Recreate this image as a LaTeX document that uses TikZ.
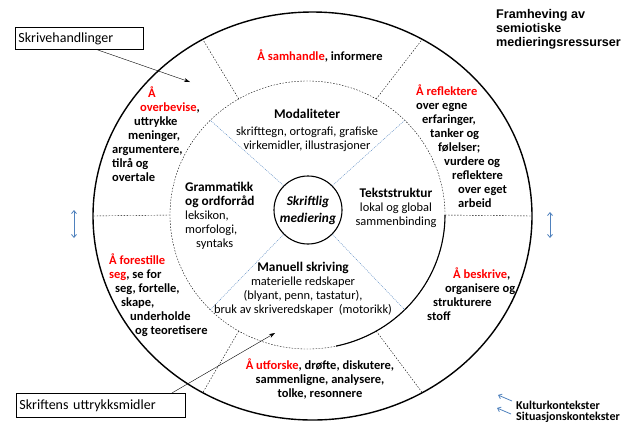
\documentclass[tikz,border=0pt]{standalone}
\usepackage{fontspec}
\setmainfont{Carlito}
\newfontfamily\arialfont{Liberation Sans}
\usetikzlibrary{arrows.meta,calc}
\definecolor{ringred}{RGB}{255,0,0}
\definecolor{ctxblue}{RGB}{79,129,189}
\newcommand{\redtxt}[1]{\textcolor{ringred}{#1}}
\newcommand{\hd}[1]{{\fontsize{13.3}{15}\selectfont\bfseries #1}}
\tikzset{
  ringtext/.style={font=\fontsize{12.5}{14}\selectfont\bfseries, inner sep=0pt},
  innertext/.style={font=\fontsize{12.4}{14}\selectfont, inner sep=0pt, align=center},
  divider/.style={thin, dash pattern=on 1.5pt off 1.5pt},
  blueline/.style={ctxblue, thin, dash pattern=on 1pt off 1pt},
  ctxarrow/.style={ctxblue, thick, -{Straight Barb[length=3pt,width=5pt]}},
  ctxdouble/.style={ctxblue, thick, {Straight Barb[length=3pt,width=5pt]}-{Straight Barb[length=3pt,width=5pt]}},
  labelbox/.style={draw, thick, inner xsep=3pt, align=left, anchor=north west},
  legendtext/.style={anchor=west, inner sep=0pt, font=\fontsize{12}{14}\selectfont\bfseries}
}
\begin{document}
\begin{tikzpicture}[x=1pt,y=1pt]
    \useasboundingbox (0,0) rectangle (631,-424);
    \coordinate (c) at (312.5,-216);
    \coordinate (m) at (307.5,-215);

    % rings
    \draw[line width=1.4pt] (c) ellipse (219.5 and 204);
    \draw[divider] (m) ellipse (137.5 and 134);
    \draw[line width=1.1pt] ($(m)+(0:137.5 and 134)$) arc[start angle=0, end angle=-78, x radius=137.5, y radius=134];
    \node[draw, circle, line width=1.1pt, minimum size=68pt, inner sep=0pt, align=center,
      font=\fontsize{13.3}{17}\selectfont\bfseries\itshape] (kjerne) at (308,-210) {Skriftlig\\mediering};

    % sector lines
    \foreach \a in {0,60,...,300}
      \draw[divider] ($(m)+(\a:137.5 and 134)$) -- ($(c)+(\a:219.5 and 204)$);
    \foreach \a in {45,135,225,315}
      \draw[blueline] (kjerne.\a) -- ($(m)+(\a:137.5 and 134)$);

    % writing acts
    \node[ringtext, anchor=north] (samhandle) at (320,-50) {\redtxt{Å samhandle}, informere};
    \node[ringtext, anchor=north west, align=left] (overbevise) at (112,-87)
      {\hspace*{36pt}\redtxt{Å}\\ \hspace*{28pt}\redtxt{overbevise},\\ \hspace*{22pt}uttrykke\\
       \hspace*{16pt}meninger,\\ argumentere,\\ tilrå og\\ overtale};
    \node[ringtext, anchor=north west, align=left] (reflektere) at (416,-85)
      {\redtxt{Å reflektere}\\ over egne\\ \hspace*{6pt}erfaringer,\\ \hspace*{14pt}tanker og\\
       \hspace*{22pt}følelser;\\ \hspace*{28pt}vurdere og\\ \hspace*{36pt}reflektere\\
       \hspace*{42pt}over eget\\ \hspace*{42pt}arbeid};
    \node[ringtext, anchor=north west, align=left] (beskrive) at (427,-268)
      {\hspace*{26pt}\redtxt{Å beskrive},\\ \hspace*{18pt}organisere og\\ \hspace*{6pt}strukturere\\ stoff};
    \node[ringtext, anchor=north, align=center] (utforske) at (320,-359)
      {\redtxt{Å utforske}, drøfte, diskutere,\\ sammenligne, analysere,\\ tolke, resonnere};
    \node[ringtext, anchor=north west, align=left] (forestille) at (109,-254)
      {\redtxt{Å forestille}\\ \redtxt{seg}, se for\\ \hspace*{6pt}seg, fortelle,\\ \hspace*{12pt}skape,\\
       \hspace*{21pt}underholde\\ \hspace*{26pt}og teoretisere};

    % semiotic resources
    \node[innertext, anchor=north] (modal) at (307,-109)
      {\hd{Modaliteter}\\[3pt] skrifttegn, ortografi, grafiske\\ virkemidler, illustrasjoner};
    \node[innertext, anchor=north west, align=left] (grammatikk) at (185,-182)
      {\hd{Grammatikk}\\ \hd{og ordforråd}\\ leksikon,\\ morfologi,\\ \hspace*{11pt}syntaks};
    \node[innertext, anchor=north] (tekststruktur) at (396,-188)
      {\hd{Tekststruktur}\\ lokal og global\\ sammenbinding};
    \node[innertext, anchor=north] (manuell) at (303,-262)
      {\hd{Manuell skriving}\\ materielle redskaper\\ (blyant, penn, tastatur),\\
       bruk av skriveredskaper\ \ (motorikk)};

    % headings and labels
    \node[anchor=north west, inner sep=0pt, align=left, font=\arialfont\bfseries\fontsize{12.6}{14}\selectfont]
      (framheving) at (496,-9) {Framheving av\\ semiotiske\\ medieringsressurser};
    \node[labelbox, text width=122pt, minimum height=22pt, font=\fontsize{14}{17}\selectfont]
      (skrivebox) at (15,-27) {Skrivehandlinger};
    \node[labelbox, text width=163pt, minimum height=24pt, font=\fontsize{14}{17}\selectfont]
      (uttrbox) at (16,-393) {Skriftens uttrykksmidler};
    \coordinate (skrivetip) at (190,-82);
    \coordinate (uttrtip) at (275,-333);
    \draw[-{Stealth[length=6pt,width=4pt]}] ([xshift=18pt]skrivebox.south) -- (skrivetip);
    \draw[-{Stealth[length=6pt,width=4pt]}] ([xshift=71pt]uttrbox.north) -- (uttrtip);

    % context arrows
    \draw[ctxdouble] (74,-210) -- (74,-238);
    \draw[ctxdouble] (550,-212) -- (550,-238);
    \node[legendtext] (kultur) at (516,-405) {Kulturkontekster};
    \node[legendtext] (situasjon) at (516,-417) {Situasjonskontekster};
    \draw[ctxarrow] ([shift={(-4pt,4pt)}]kultur.west) -- ++(-14pt,6pt);
    \draw[ctxarrow] ([shift={(-5pt,3pt)}]situasjon.west) -- ++(-14pt,6pt);
\end{tikzpicture}
\end{document}
